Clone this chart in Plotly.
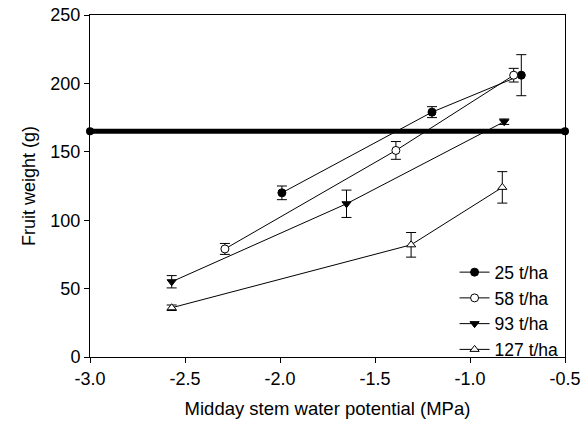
import plotly.graph_objects as go

# Data
x25 = [-1.99, -1.20, -0.73]
y25 = [120, 179, 206]
e25 = [5, 4, 15]

x58 = [-2.29, -1.39, -0.77]
y58 = [79, 151, 206]
e58 = [4, 6.5, 5]

x93 = [-2.57, -1.65, -0.82]
y93 = [55, 112, 172]
e93 = [4.5, 10, 2]

x127 = [-2.57, -1.31, -0.83]
y127 = [36, 82, 124]
e127 = [2, 9, 11.5]

ref_x = [-3.0, -0.5]
ref_y = [165, 165]

names = ["25 t/ha", "58 t/ha", "93 t/ha", "127 t/ha"]
xticks = [-3.0, -2.5, -2.0, -1.5, -1.0, -0.5]
xticklabels = ["-3.0", "-2.5", "-2.0", "-1.5", "-1.0", "-0.5"]
yticks = [0, 50, 100, 150, 200, 250]

series = [
    (x25, y25, e25, names[0], "circle", "black"),
    (x58, y58, e58, names[1], "circle", "white"),
    (x93, y93, e93, names[2], "triangle-down", "black"),
    (x127, y127, e127, names[3], "triangle-up", "white"),
]

fig = go.Figure()

fig.add_trace(go.Scatter(
    x=ref_x, y=ref_y, mode="lines+markers", showlegend=False,
    line=dict(color="black", width=5),
    marker=dict(symbol="circle", size=8, color="black"),
    cliponaxis=False,
))

for xs, ys, es, nm, sym, fill in series:
    fig.add_trace(go.Scatter(
        x=xs, y=ys, name=nm, mode="lines+markers",
        line=dict(color="black", width=1),
        marker=dict(symbol=sym, size=8, color=fill, line=dict(color="black", width=1)),
        error_y=dict(type="data", array=es, visible=True, color="black", thickness=1, width=5),
    ))

FONT = "Liberation Sans, Arial, sans-serif"
fig.update_layout(
    width=584, height=433,
    margin=dict(l=90, r=19, t=15, b=76),
    paper_bgcolor="white", plot_bgcolor="white",
    font=dict(family=FONT, size=18, color="black"),
    legend=dict(x=0.997, y=-0.03, xanchor="right", yanchor="bottom",
                bgcolor="rgba(0,0,0,0)", font=dict(size=17.5), tracegroupgap=0),
    showlegend=True,
)

fig.update_xaxes(
    range=[-3.0, -0.5], tickvals=xticks, ticktext=xticklabels, automargin=False,
    showline=True, linecolor="black", linewidth=1, mirror=True,
    ticks="outside", ticklen=5, tickcolor="black", showgrid=False, zeroline=False,
    title=dict(text="Midday stem water potential (MPa)", font=dict(size=18.5), standoff=14),
)
fig.update_yaxes(
    range=[0, 250], tickvals=yticks, automargin=False,
    showline=True, linecolor="black", linewidth=1, mirror=True,
    ticks="outside", ticklen=5, tickcolor="black", showgrid=False, zeroline=False,
    title=dict(text="Fruit weight (g)", font=dict(size=18), standoff=10),
)

fig.write_html("out.html", config={"displayModeBar": False},
               post_script="document.body.style.margin='0';")
